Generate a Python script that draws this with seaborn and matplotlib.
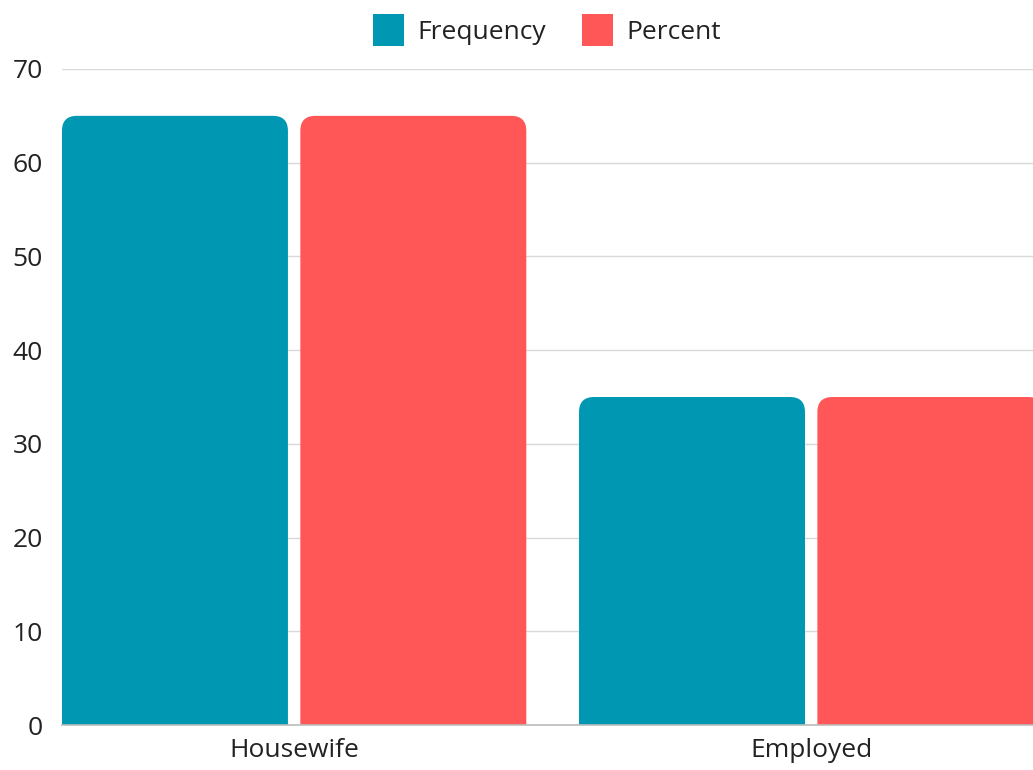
import matplotlib
matplotlib.use("Agg")
import matplotlib.pyplot as plt
from matplotlib.patches import FancyBboxPatch
import pandas as pd
import seaborn as sns

categories = ["Housewife", "Employed"]
series = ["Frequency", "Percent"]
frequency = [65, 35]
percent = [65, 35]
y_ticks = [0, 10, 20, 30, 40, 50, 60, 70]

colors = {"Frequency": "#0097B2", "Percent": "#FF5757"}

df = pd.DataFrame({
    "Occupation": categories * 2,
    "Series": [series[0]] * len(categories) + [series[1]] * len(categories),
    "Value": frequency + percent,
})

sns.set_theme(style="white")
plt.rcParams["font.family"] = ["Open Sans", "DejaVu Sans"]

fig = plt.figure(figsize=(10.33, 7.7), dpi=100)
ax = fig.add_axes([0.060, 0.0584, 0.940, 0.852])

sns.barplot(data=df, x="Occupation", y="Value", hue="Series", order=categories,
            hue_order=series, palette=colors, width=0.922, gap=0.052,
            saturation=1, ax=ax, legend=False, zorder=3)

# Replace plain rectangles with bars that have rounded top corners
x_rad = 0.029
y_rad = 1.6
for p in list(ax.patches):
    x, y = p.get_x(), p.get_y()
    w, h = p.get_width(), p.get_height()
    fc = p.get_facecolor()
    p.remove()
    box = FancyBboxPatch((x, y - 3), w, h + 3,
                         boxstyle=f"round,pad=0,rounding_size={x_rad}",
                         mutation_aspect=y_rad / x_rad,
                         facecolor=fc, edgecolor="none", zorder=3)
    ax.add_patch(box)

ax.set_xlim(-0.449, 1.429)
ax.set_ylim(0, 70)
ax.set_yticks(y_ticks)
ax.set_yticklabels([str(t) for t in y_ticks])
ax.set_xlabel("")
ax.set_ylabel("")

ax.grid(axis="y", color="#d9d9d9", linewidth=1.0, zorder=0)
ax.grid(axis="x", visible=False)
for side in ["top", "right", "left"]:
    ax.spines[side].set_visible(False)
ax.spines["bottom"].set_color("#bcbcbc")
ax.spines["bottom"].set_linewidth(1.2)
ax.spines["bottom"].set_zorder(4)

ax.tick_params(axis="y", length=0, pad=14, labelsize=19, labelcolor="#222222")
ax.tick_params(axis="x", length=0, pad=9, labelsize=19, labelcolor="#222222")

handles = [plt.Rectangle((0, 0), 1, 1, facecolor=colors[s], edgecolor="none") for s in series]
fig.legend(handles, series, loc="center", bbox_to_anchor=(0.5295, 0.961), ncol=2,
           frameon=False, fontsize=19, handlelength=1.15, handleheight=1.45,
           handletextpad=0.5, columnspacing=1.4, labelcolor="#222222")

fig.savefig("out.png", dpi=100, facecolor="white")
